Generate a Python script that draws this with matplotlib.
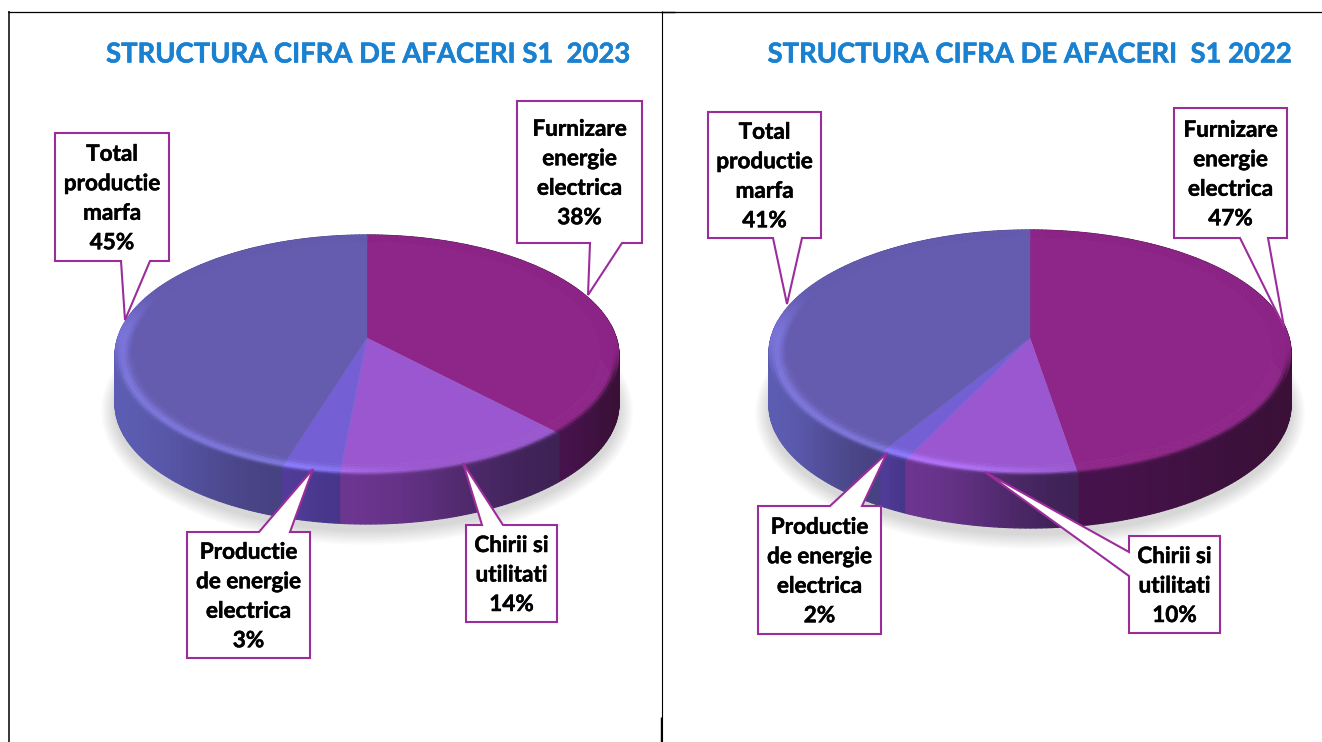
import numpy as np
import matplotlib
matplotlib.use("Agg")
import matplotlib.pyplot as plt
import matplotlib.patheffects as pe
from matplotlib.collections import PolyCollection
from matplotlib.patches import Polygon
from matplotlib.colors import to_rgb

plt.rcParams['font.family'] = ['Lato', 'DejaVu Sans']

# ---- data ----
categories = ["Furnizare\nenergie\nelectrica", "Chirii si\nutilitati",
              "Productie\nde energie\nelectrica", "Total\nproductie\nmarfa"]
values_2023 = [37.9, 13.6, 3.3, 45.2]
values_2022 = [47.4, 9.7, 1.6, 41.3]
title_2023 = "STRUCTURA CIFRA DE AFACERI S1  2023"
title_2022 = "STRUCTURA CIFRA DE AFACERI  S1 2022"

# ---- styles ----
FACE = ["#8E2588", "#9A57CF", "#7460D4", "#655CB0"]
WALL_L = ["#46124C", "#6C3590", "#503C98", "#5C5CB2"]   # wall colour, left end of a slice's visible front
WALL_R = ["#3A1038", "#3E2256", "#46368A", "#474282"]   # wall colour, right end of a slice's visible front
LINE = "#9B2D9B"
TITLE = "#1A80D0"
W, H = 1322, 742

fig = plt.figure(figsize=(W / 100, H / 100), dpi=100, facecolor="white")
ax = fig.add_axes([0, 0, 1, 1])
ax.set_xlim(0, W)
ax.set_ylim(H, 0)
ax.axis("off")


def make_proj(cx, cy, Rx, back, front):
    k = (front - back) / (front + back)
    a = back * (1 + k)
    Rp = Rx * np.sqrt(1 - k * k)

    def proj(r, th):
        x = r * np.sin(th)
        y = r * np.cos(th)
        d = 1 + k * y
        return cx + Rp * x / d, cy - a * y / d
    return proj


def smooth(t):
    t = np.clip(t, 0, 1)
    return t * t * (3 - 2 * t)


def draw_pie(values, cx, cy, Rx, back, front, depth):
    proj = make_proj(cx, cy, Rx, back, front)
    full = np.linspace(0, 2 * np.pi, 361)

    # soft shadow
    for g in np.linspace(14, 1, 10):
        px, py = proj(1.0, full)
        sx = cx + (px - cx) * (1 + g / Rx)
        sy = cy + 6 + depth + (py - cy) * (1 + g / 130)
        ax.fill(sx, sy, color="#000000", alpha=0.015, lw=0, zorder=1)

    fr = np.cumsum([0] + list(values)) / sum(values) * 2 * np.pi
    wall_spans = []
    polys, cols = [], []
    for i in range(len(values)):
        n = max(int((fr[i + 1] - fr[i]) / np.radians(1.0)), 2)
        ths = np.linspace(fr[i], fr[i + 1], n + 1)
        front_th = ths[np.cos(ths) < 0.1]
        xs = proj(1.0, front_th if len(front_th) > 1 else ths)[0]
        span = (xs.min(), xs.max())
        wall_spans.append(span)
        cl, cr = np.array(to_rgb(WALL_L[i])), np.array(to_rgb(WALL_R[i]))
        for a, b in zip(ths[:-1], ths[1:]):
            xa, ya = proj(1.0, a)
            xb, yb = proj(1.0, b)
            polys.append([(xa, ya), (xb, yb), (xb, yb + depth), (xa, ya + depth)])
            t = (0.5 * (xa + xb) - span[0]) / max(span[1] - span[0], 1)
            cols.append(tuple(cl + (cr - cl) * smooth(t)))
    ax.add_collection(PolyCollection(polys, facecolors=cols, edgecolors=cols, lw=0.9, zorder=2))

    # top surface
    for i in range(len(values)):
        n = max(int((fr[i + 1] - fr[i]) / np.radians(1.0)), 2)
        ths = np.linspace(fr[i], fr[i + 1], n + 1)
        px, py = proj(0.93, ths)
        ax.fill(np.r_[cx, px], np.r_[cy, py], color=FACE[i], lw=0.3, zorder=3)

    # bevelled rim
    rs = np.linspace(0.93, 1.0, 8)
    polys, cols = [], []
    for i in range(len(values)):
        n = max(int((fr[i + 1] - fr[i]) / np.radians(1.0)), 2)
        ths = np.linspace(fr[i], fr[i + 1], n + 1)
        f = np.array(to_rgb(FACE[i]))
        cl, cr = np.array(to_rgb(WALL_L[i])), np.array(to_rgb(WALL_R[i]))
        span = wall_spans[i]
        for a, b in zip(ths[:-1], ths[1:]):
            m = 0.5 * (a + b)
            ym, xm = np.cos(m), np.sin(m)
            # the bevel shows on the left from high up, on the right only lower down
            top = 0.45 if xm < 0 else 0.05
            vis = smooth((top - ym) / 0.45)
            left = smooth((-xm + 0.25) / 0.55)
            xw = proj(1.0, m)[0]
            tw = np.clip((xw - span[0]) / max(span[1] - span[0], 1), 0, 1)
            wall = cl + (cr - cl) * smooth(tw)
            hi = np.clip(f + np.array([0.09, 0.10, 0.17]) * left, 0, 1)
            for r0, r1 in zip(rs[:-1], rs[1:]):
                t = (0.5 * (r0 + r1) - rs[0]) / (rs[-1] - rs[0])
                if t < 0.6:
                    c = f + (hi - f) * smooth(t / 0.6)
                else:
                    c = hi + (wall - hi) * smooth((t - 0.6) / 0.4) * smooth((0.1 - ym) / 0.5)
                c = f + (c - f) * vis
                xa, ya = proj(r0, a)
                xb, yb = proj(r0, b)
                xc, yc = proj(r1, b)
                xd, yd = proj(r1, a)
                polys.append([(xa, ya), (xb, yb), (xc, yc), (xd, yd)])
                cols.append(tuple(np.clip(c, 0, 1)))
    ax.add_collection(PolyCollection(polys, facecolors=cols, edgecolors=cols, lw=0.4, zorder=4))


def callout(text, box, base, tip, fs=16.2):
    x0, y0, x1, y1 = box
    (bx0, by0), (bx1, by1) = base
    if by0 == y0:      # tail on the top edge
        pts = [(x0, y0), (bx0, by0), tip, (bx1, by1), (x1, y0), (x1, y1), (x0, y1)]
    elif by0 == y1:    # tail on the bottom edge
        pts = [(x0, y0), (x1, y0), (x1, y1), (bx1, by1), tip, (bx0, by0), (x0, y1)]
    else:              # tail on the left edge
        pts = [(x0, y0), (x1, y0), (x1, y1), (x0, y1), (bx1, by1), tip, (bx0, by0)]
    ax.add_patch(Polygon(pts, closed=True, fc="white", ec=LINE, lw=1.5, zorder=6, joinstyle="miter"))
    ax.text((x0 + x1) / 2, (y0 + y1) / 2 + 1.5, text, ha="center", va="center", fontsize=fs,
            fontweight="bold", color="#000000", linespacing=1.5, zorder=7,
            path_effects=[pe.withStroke(linewidth=0.35, foreground="black")])


def label(i, values):
    return f"{categories[i]}\n{round(values[i])}%"


draw_pie(values_2023, 367, 338, 252, 103, 138, 48)
draw_pie(values_2022, 1030, 338, 261, 108, 138, 52)

# titles
stroke = [pe.withStroke(linewidth=0.4, foreground=TITLE)]
ax.text(367.5, 54.5, title_2023, ha="center", va="center", fontsize=19.75, fontweight="bold",
        color=TITLE, zorder=7, path_effects=stroke)
ax.text(1029, 54.5, title_2022, ha="center", va="center", fontsize=19.75, fontweight="bold",
        color=TITLE, zorder=7, path_effects=stroke)

# callouts 2023
callout(label(0, values_2023), (517, 101, 642, 243), ((590, 243), (622, 243)), (588, 295))
callout(label(1, values_2023), (466, 525, 557, 622), ((482, 525), (503, 525)), (463, 463))
callout(label(2, values_2023), (187, 532, 310, 658), ((259, 532), (290, 532)), (313, 469))
callout(label(3, values_2023), (55, 133, 169, 261), ((121, 261), (150, 261)), (125, 320))
# callouts 2022
callout(label(0, values_2022), (1174, 108, 1287, 238), ((1240, 238), (1268, 238)), (1284, 327))
callout(label(1, values_2022), (1129, 536, 1220, 633), ((1129, 552), (1129, 576)), (985, 472))
callout(label(2, values_2022), (758, 506, 881, 634), ((830, 506), (862, 506)), (887, 453))
callout(label(3, values_2022), (708, 112, 821, 238), ((773, 238), (802, 238)), (787, 304))

# page frame
k = dict(color="black", zorder=8, solid_capstyle="butt")
ax.plot([8, W], [11.5, 11.5], lw=0.9, **k)
ax.plot([8.5, 8.5], [11, H], lw=1.1, **k)
ax.plot([661.5, 661.5], [11, H], lw=0.8, **k)
ax.plot([661, 675], [12, 12], lw=1.0, **k)
ax.plot([661, 661], [717, H], lw=1.0, **k)

fig.savefig("out.png", dpi=100, facecolor="white")
